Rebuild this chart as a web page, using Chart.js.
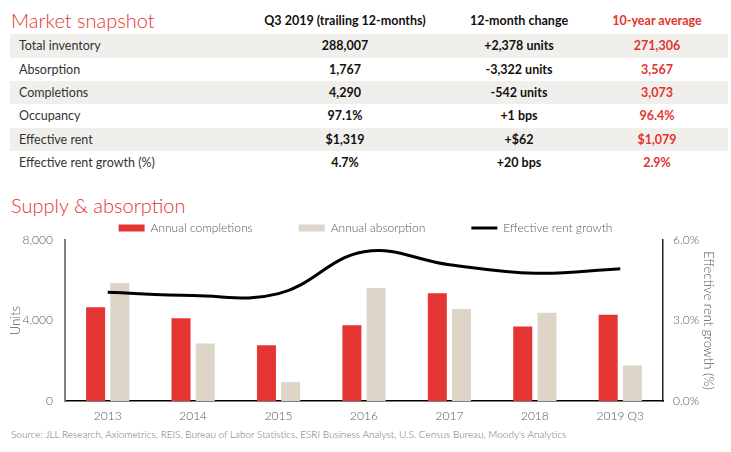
<!DOCTYPE html>
<html>
<head>
<meta charset="utf-8">
<script src="https://cdn.jsdelivr.net/npm/chart.js@4.4.0/dist/chart.umd.min.js"></script>
<style>
  body { margin: 0; background: #fff; font-family: Lato, "Noto Sans", sans-serif; }
  #page { position: relative; width: 731px; height: 452px; overflow: hidden; }
  .title { position: absolute; left: 11px; font-size: 20px; font-weight: 300; color: #e3342f; line-height: 24px; }
  .row { position: absolute; left: 10px; width: 718px; height: 23.33px; }
  .row.shade { background: #f1efeb; }
  .cell { position: absolute; top: 0; height: 100%; display: flex; align-items: center; font-size: 12.5px; white-space: nowrap; }
  .lbl { left: 9px; color: #333; }
  .val { width: 220px; justify-content: center; font-weight: 700; color: #111; }
  .red { color: #e3342f; }
  #chartBox { position: absolute; left: 0; top: 176px; width: 731px; height: 249px; }
  #source { position: absolute; left: 11px; top: 428px; font-size: 10px; font-weight: 300; color: #707070; }
</style>
</head>
<body>
<div id="page">
  <div class="title" style="top:8px">Market snapshot</div>
  <div id="table"></div>
  <div class="title" style="top:193px">Supply &amp; absorption</div>
  <div id="chartBox"><canvas id="chart"></canvas></div>
  <div id="source">Source: JLL Research, Axiometrics, REIS, Bureau of Labor Statistics, ESRI Business Analyst, U.S. Census Bureau, Moody's Analytics</div>
</div>
<script>
  // Market snapshot table
  const tableHeaders = ['Q3 2019 (trailing 12-months)', '12-month change', '10-year average'];
  const rowLabels = ['Total inventory', 'Absorption', 'Completions', 'Occupancy', 'Effective rent', 'Effective rent growth (%)'];
  const q3Values = ['288,007', '1,767', '4,290', '97.1%', '$1,319', '4.7%'];
  const changeValues = ['+2,378 units', '-3,322 units', '-542 units', '+1 bps', '+$62', '+20 bps'];
  const avgValues = ['271,306', '3,567', '3,073', '96.4%', '$1,079', '2.9%'];

  // Supply & absorption chart
  const years = ['2013', '2014', '2015', '2016', '2017', '2018', '2019 Q3'];
  const completions = [4660, 4110, 2770, 3760, 5350, 3700, 4290];
  const absorption = [5860, 2860, 940, 5610, 4570, 4390, 1767];
  const rentGrowth = [4.05, 3.93, 4.0, 5.56, 5.08, 4.76, 4.93];

  const colCenters = [345, 519, 657];
  const table = document.getElementById('table');

  function valCell(text, center, extra) {
    return `<div class="cell val ${extra}" style="left:${center - 120}px">${text}</div>`;
  }

  table.innerHTML = `<div class="row" style="top:8px;height:24px">
      ${tableHeaders.map((h, i) => valCell(h, colCenters[i], i === 2 ? 'red' : '')).join('')}
    </div>` +
    rowLabels.map((label, i) => `
    <div class="row ${i % 2 === 0 ? 'shade' : ''}" style="top:${34.3 + i * 23.33}px">
      <div class="cell lbl">${label}</div>
      ${valCell(q3Values[i], colCenters[0], '')}
      ${valCell(changeValues[i], colCenters[1], '')}
      ${valCell(avgValues[i], colCenters[2], 'red')}
    </div>`).join('');

  const tickFont = { family: 'Lato', size: 12, weight: 300 };
  const tickColor = '#595959';

  // shrink legend height so the labels can be spaced wide apart
  const legendHeightFix = {
    id: 'legendHeightFix',
    beforeInit(chart) {
      const fit = chart.legend.fit;
      chart.legend.fit = function () {
        fit.call(this);
        this.height = 64;
      };
    }
  };

  new Chart(document.getElementById('chart'), {
    data: {
      labels: years,
      datasets: [
        {
          type: 'bar',
          label: 'Annual completions',
          data: completions,
          backgroundColor: '#e53532',
          yAxisID: 'y',
          categoryPercentage: 0.567,
          barPercentage: 0.785
        },
        {
          type: 'bar',
          label: 'Annual absorption',
          data: absorption,
          backgroundColor: '#dcd5c8',
          yAxisID: 'y',
          categoryPercentage: 0.567,
          barPercentage: 0.785
        },
        {
          type: 'line',
          label: 'Effective rent growth',
          data: rentGrowth,
          borderColor: '#000',
          backgroundColor: '#000',
          borderWidth: 3,
          pointRadius: 0,
          tension: 0.4,
          yAxisID: 'y1',
          order: -1
        }
      ]
    },
    options: {
      responsive: true,
      maintainAspectRatio: false,
      animation: false,
      layout: { padding: 0 },
      plugins: {
        tooltip: { enabled: false },
        legend: {
          position: 'top',
          labels: {
            sort: (a, b) => a.datasetIndex - b.datasetIndex,
            usePointStyle: true,
            pointStyleWidth: 26,
            boxHeight: 7,
            padding: 46,
            color: tickColor,
            font: { family: 'Lato', size: 12, weight: 300 },
            generateLabels(chart) {
              const items = Chart.defaults.plugins.legend.labels.generateLabels(chart);
              items.forEach(item => {
                const ds = chart.data.datasets[item.datasetIndex];
                if (ds.type === 'line') {
                  item.pointStyle = 'line';
                  item.lineWidth = 3;
                  item.strokeStyle = '#000';
                } else {
                  item.pointStyle = 'rect';
                  item.lineWidth = 0;
                }
              });
              return items;
            }
          }
        }
      },
      scales: {
        x: {
          grid: { display: false, drawTicks: false },
          border: { color: '#000', width: 1.5 },
          ticks: { color: tickColor, font: tickFont, padding: 8 },
          afterFit: s => { s.height = 24; }
        },
        y: {
          position: 'left',
          min: 0,
          max: 8000,
          grid: { display: false, drawTicks: false },
          border: { color: '#808080', width: 2 },
          ticks: {
            stepSize: 4000,
            padding: 12,
            color: tickColor,
            font: tickFont,
            callback: v => v.toLocaleString('en-US')
          },
          title: { display: true, text: 'Units', color: tickColor, font: { family: 'Lato', size: 13, weight: 300 }, padding: { top: 8, bottom: 0 } },
          afterFit: s => { s.width = 65; }
        },
        y1: {
          position: 'right',
          min: 0,
          max: 6,
          grid: { display: false, drawTicks: false },
          border: { color: '#222', width: 1.5 },
          ticks: {
            stepSize: 3,
            padding: 10,
            color: tickColor,
            font: tickFont,
            callback: v => v.toFixed(1) + '%'
          },
          title: { display: true, text: 'Effective rent growth (%)', color: tickColor, font: { family: 'Lato', size: 13, weight: 300 }, padding: { top: 15, bottom: 0 } },
          afterFit: s => { s.width = 68; }
        }
      }
    },
    plugins: [legendHeightFix]
  });
</script>
</body>
</html>
